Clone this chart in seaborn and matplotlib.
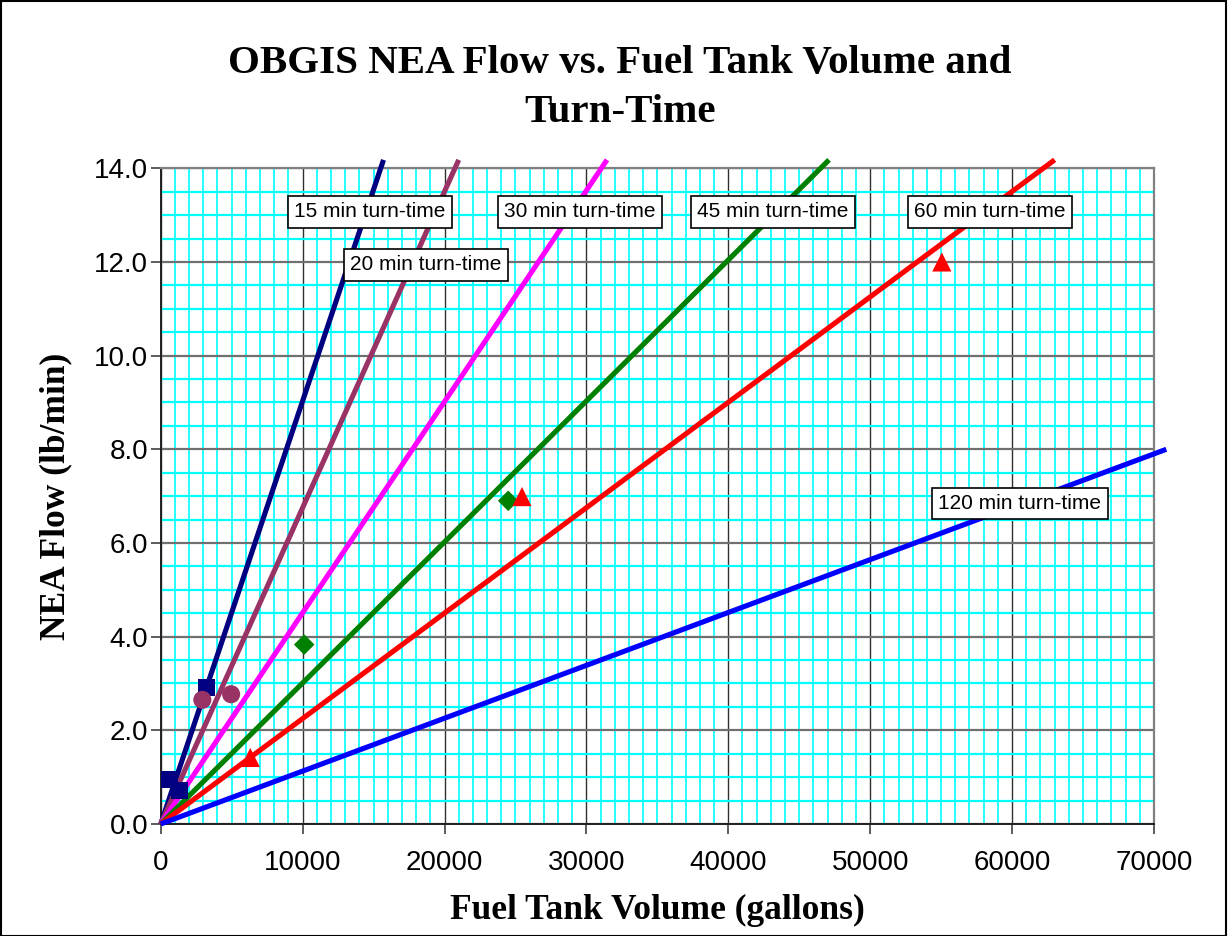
import matplotlib
matplotlib.use("Agg")
import matplotlib.pyplot as plt
from matplotlib.ticker import MultipleLocator, FormatStrFormatter
from matplotlib.patches import Rectangle
import seaborn as sns
import pandas as pd

# ---- data ----
line_labels = ["15 min turn-time", "20 min turn-time", "30 min turn-time",
               "45 min turn-time", "60 min turn-time", "120 min turn-time"]
line_x_end = [15700, 21000, 31450, 47100, 63000, 70870]
line_y_end = [14.18, 14.18, 14.18, 14.18, 14.18, 8.0]
line_colors = ["#000080", "#993366", "#FF00FF", "#008000", "#FF0000", "#0000FF"]

pts_15_x = [650, 1350, 3200]
pts_15_y = [0.95, 0.72, 2.92]
pts_20_x = [2930, 4960]
pts_20_y = [2.65, 2.77]
pts_45_x = [10110, 24490]
pts_45_y = [3.83, 6.90]
pts_60_x = [6310, 25460, 55050]
pts_60_y = [1.42, 6.99, 12.0]

title_text = "OBGIS NEA Flow vs. Fuel Tank Volume and\nTurn-Time"
x_label = "Fuel Tank Volume (gallons)"
y_label = "NEA Flow (lb/min)"

# ---- style ----
sns.set_style("white")
plt.rcParams['font.family'] = ['Liberation Sans', 'DejaVu Sans']
plt.rcParams['text.color'] = 'black'
plt.rcParams['axes.labelcolor'] = 'black'
plt.rcParams['xtick.color'] = 'black'
plt.rcParams['ytick.color'] = 'black'

fig = plt.figure(figsize=(12.28, 9.36), dpi=100)
ax = fig.add_axes([0.1309, 0.1197, 0.8088, 0.7005])

# lines
rows = []
for lab, xe, ye in zip(line_labels, line_x_end, line_y_end):
    rows.append({"series": lab, "x": 0.0, "y": 0.0})
    rows.append({"series": lab, "x": xe, "y": ye})
df_lines = pd.DataFrame(rows)
sns.lineplot(data=df_lines, x="x", y="y", hue="series", palette=line_colors,
             hue_order=line_labels, linewidth=3.7, legend=False, ax=ax,
             zorder=4, sort=False)
for l in ax.lines:
    l.set_clip_on(False)
    l.set_solid_capstyle("butt")

# markers
sns.scatterplot(x=pts_15_x, y=pts_15_y, marker="s", s=150, color="#000080",
                edgecolor="none", ax=ax, zorder=5, legend=False)
sns.scatterplot(x=pts_20_x, y=pts_20_y, marker="o", s=170, color="#993366",
                edgecolor="none", ax=ax, zorder=5, legend=False)
sns.scatterplot(x=pts_45_x, y=pts_45_y, marker="D", s=110, color="#008000",
                edgecolor="none", ax=ax, zorder=5, legend=False)
sns.scatterplot(x=pts_60_x, y=pts_60_y, marker="^", s=190, color="#FF0000",
                edgecolor="none", ax=ax, zorder=5, legend=False)

# axes
ax.set_xlim(0, 70000)
ax.set_ylim(0, 14)
ax.xaxis.set_major_locator(MultipleLocator(10000))
ax.xaxis.set_minor_locator(MultipleLocator(1000))
ax.yaxis.set_major_locator(MultipleLocator(2))
ax.yaxis.set_minor_locator(MultipleLocator(0.5))
ax.yaxis.set_major_formatter(FormatStrFormatter("%.1f"))
ax.xaxis.set_major_formatter(FormatStrFormatter("%d"))

ax.grid(which="minor", axis="x", color="#00FFFF", linewidth=1.2, zorder=0)
ax.grid(which="minor", axis="y", color="#00FFFF", linewidth=1.6, zorder=0)
ax.grid(which="major", axis="y", color="#707070", linewidth=1.6, zorder=1)
ax.grid(which="major", axis="x", color="#303030", linewidth=1.0, zorder=1)
ax.set_axisbelow(True)

for side in ["top", "right"]:
    ax.spines[side].set_color("#808080")
    ax.spines[side].set_linewidth(1.6)
for side in ["left", "bottom"]:
    ax.spines[side].set_color("#202020")
    ax.spines[side].set_linewidth(1.4)

ax.tick_params(which="major", direction="out", length=7, width=1.1,
               color="#303030", labelcolor="black", labelsize=20,
               bottom=True, left=True)
ax.tick_params(axis="y", pad=2)
ax.tick_params(axis="x", pad=12)
ax.tick_params(which="minor", length=0)

ax.set_xlabel(x_label, family=["Liberation Serif", "DejaVu Serif"],
              fontsize=25.5, fontweight="bold", labelpad=13, color="black")
ax.set_ylabel(y_label, family=["Liberation Serif", "DejaVu Serif"],
              fontsize=25.5, fontweight="bold", labelpad=16, color="black")

fig.text(0.505, 0.906, title_text, ha="center", va="center",
         family=["Liberation Serif", "DejaVu Serif"], fontsize=29.5,
         fontweight="bold", linespacing=1.45, color="black")

# line labels (boxes)
label_pos = [(9400, 13.07), (13360, 11.94), (24200, 13.07),
             (37800, 13.07), (53100, 13.07), (54800, 6.84)]
for lab, (lx, ly) in zip(line_labels, label_pos):
    ax.text(lx, ly, lab, ha="left", va="center", fontsize=15, zorder=6,
            color="black",
            bbox=dict(boxstyle="square,pad=0.3", facecolor="white",
                      edgecolor="black", linewidth=1.2))

# figure border
fig.patches.append(Rectangle((0.001, 0.0), 0.997, 0.999, transform=fig.transFigure,
                             fill=False, edgecolor="black", linewidth=1.5))

fig.savefig("out.png", dpi=100)
